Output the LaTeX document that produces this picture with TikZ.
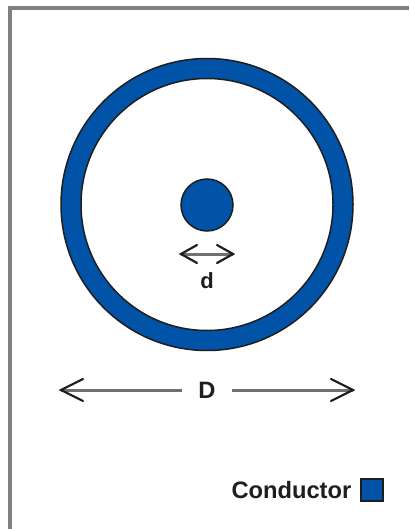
\documentclass[tikz,border=0pt]{standalone}
\usepackage{fontspec}
\setmainfont{Liberation Sans}
\definecolor{cond}{HTML}{0053A6}
\definecolor{framegray}{HTML}{808080}
\definecolor{arrowgray}{HTML}{707070}
\definecolor{inkdark}{HTML}{1E1E1E}
\tikzset{
  x=1pt,y=-1pt,
  conductor/.style={fill=cond,draw=inkdark,line width=1.5pt},
  shaft/.style={draw=arrowgray,line width=3pt},
  barb/.style={draw=inkdark,line width=2.2pt,line cap=round,line join=miter},
  lbl/.style={font=\fontsize{23.7}{26}\selectfont\bfseries,text=inkdark,inner sep=0pt},
  lblsmall/.style={font=\fontsize{22}{26}\selectfont\bfseries,text=inkdark,inner sep=0pt}
}
\begin{document}
\begin{tikzpicture}
\useasboundingbox (0,0) rectangle (409,529);
\fill[white] (0,0) rectangle (409,529);
% frame
\coordinate (fb) at (10,529);
\coordinate (fc) at (10,8);
\coordinate (fr) at (409,8);
\draw[framegray,line width=3.6pt] (fb) -- (fc) -- (fr);
% outer conductor
\path[conductor,even odd rule] (207,204.5) circle [radius=146] (207,204.5) circle [radius=126];
% inner conductor
\node[conductor,circle,minimum size=52pt,inner sep=0pt] (inner) at (207,205) {};
% d
\coordinate (dl) at (181,254);
\coordinate (dr) at (233,254);
\draw[shaft] (dl) -- (dr);
\draw[barb] (197,245) -- (dl) -- (197,263);
\draw[barb] (217,245) -- (dr) -- (217,263);
\node[lblsmall] (dlabel) at (207,281) {d};
% D
\node[lbl] (Dlabel) at (207,390) {D};
\coordinate (Dl) at (61,390);
\coordinate (Dr) at (353,390);
\coordinate (Dla) at (182,390);
\coordinate (Dra) at (232,390);
\draw[shaft] (Dl) -- (Dla);
\draw[shaft] (Dra) -- (Dr);
\draw[barb] (83,379) -- (Dl) -- (83,401);
\draw[barb] (331,379) -- (Dr) -- (331,401);
% legend
\node[lbl,anchor=east] (legend) at (351.5,490) {Conductor};
\node[conductor,minimum size=22pt,inner sep=0pt] (swatch) at (372,490) {};
\end{tikzpicture}
\end{document}
